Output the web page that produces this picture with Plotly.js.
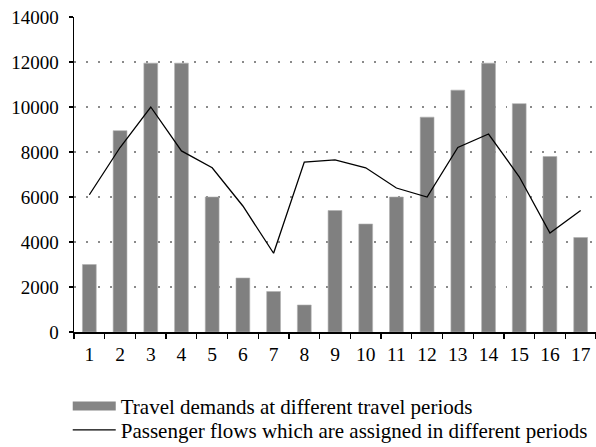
<!DOCTYPE html>
<html>
<head>
<meta charset="utf-8">
<script src="https://cdn.plot.ly/plotly-3.0.1.min.js"></script>
<style>html,body{margin:0;padding:0;background:#fff;}#chart{width:596px;height:447px;}</style>
</head>
<body>
<div id="chart"></div>
<script>
var periods = ['1','2','3','4','5','6','7','8','9','10','11','12','13','14','15','16','17'];
var travelDemands = [3000, 8950, 11950, 11950, 6000, 2400, 1800, 1200, 5400, 4800, 6000, 9550, 10750, 11950, 10150, 7800, 4200];
var assignedFlows = [6100, 8200, 10000, 8050, 7300, 5600, 3500, 7550, 7650, 7300, 6400, 6000, 8200, 8800, 6900, 4400, 5400];
var demandName = 'Travel demands at different travel periods';
var flowName = 'Passenger flows which are assigned in different periods';
var yTicks = [0, 2000, 4000, 6000, 8000, 10000, 12000, 14000];

var FAMILY = '"Liberation Serif", "Times New Roman", serif';

var traces = [
  {
    type: 'bar', x: periods, y: travelDemands, name: demandName,
    marker: {color: '#808080', line: {color: '#b0b0b0', width: 0.6}},
    showlegend: false, hoverinfo: 'x+y'
  },
  {
    type: 'scatter', mode: 'lines', x: [null], y: [null], name: demandName,
    line: {color: '#858585', width: 9}, showlegend: true, hoverinfo: 'skip',
    legend: 'legend'
  },
  {
    type: 'scatter', mode: 'lines', x: periods, y: assignedFlows, name: flowName,
    line: {color: '#000000', width: 1.3}, legend: 'legend2'
  }
];

var legendBase = {
  x: -0.012, xanchor: 'left', yanchor: 'middle',
  orientation: 'v', bgcolor: 'rgba(0,0,0,0)', borderwidth: 0,
  font: {family: FAMILY, size: 21, color: '#000'}, itemwidth: 43
};

var layout = {
  width: 596, height: 447,
  margin: {l: 74, r: 0, t: 17, b: 115, autoexpand: false},
  paper_bgcolor: '#ffffff', plot_bgcolor: '#ffffff',
  font: {family: FAMILY, size: 19, color: '#000'},
  bargap: 0.55,
  showlegend: true,
  legend: Object.assign({}, legendBase, {y: -0.236}),
  legend2: Object.assign({}, legendBase, {y: -0.312}),
  xaxis: {
    type: 'category', showgrid: false, zeroline: false,
    showline: true, linecolor: '#000', linewidth: 1.5,
    ticks: 'outside', ticklen: 5, tickcolor: '#000', tickwidth: 1.3,
    tickson: 'boundaries', range: [-0.5, 16.5], ticklabelstandoff: 4,
    tickfont: {family: FAMILY, size: 19.5, color: '#000'}
  },
  yaxis: {
    range: [0, 14000], tickvals: yTicks, ticktext: yTicks.map(String),
    showgrid: true, gridcolor: '#8a8a8a', gridwidth: 1.2, griddash: '1.5px,10.5px',
    zeroline: false, showline: true, linecolor: '#000', linewidth: 1.5,
    ticks: 'outside', ticklen: 4, tickcolor: '#000', tickwidth: 1.3,
    ticklabelstandoff: 6, tickfont: {family: FAMILY, size: 19, color: '#000'}
  }
};

Plotly.newPlot('chart', traces, layout, {displayModeBar: false, staticPlot: true});
</script>
</body>
</html>
